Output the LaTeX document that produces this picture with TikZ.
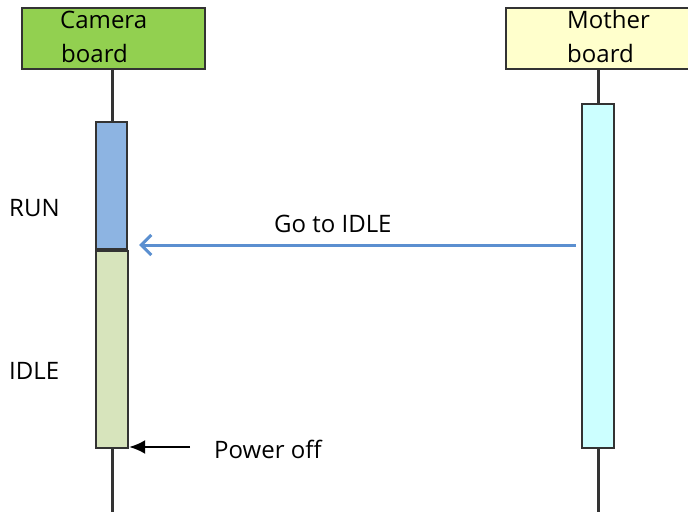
\documentclass[tikz,border=0pt]{standalone}
\usepackage{fontspec}
\setmainfont{Open Sans}
\usetikzlibrary{arrows.meta}
\definecolor{linegray}{HTML}{333333}
\definecolor{camgreen}{HTML}{92D050}
\definecolor{mothyellow}{HTML}{FFFFCC}
\definecolor{runblue}{HTML}{8DB4E2}
\definecolor{idlegreen}{HTML}{D7E4BC}
\definecolor{actcyan}{HTML}{CCFFFF}
\definecolor{msgblue}{HTML}{5B8FD0}
\begin{document}
\begin{tikzpicture}[x=1pt,y=-1pt,
  header/.style={draw=linegray, line width=2.6pt, rectangle, inner sep=0pt, minimum width=183pt, minimum height=61pt},
  actbox/.style={draw=linegray, line width=2.4pt, rectangle, inner sep=0pt},
  lifeline/.style={draw=linegray, line width=3pt},
  lbl/.style={font=\fontsize{24}{24}\selectfont, text=black, inner sep=0pt, anchor=base west},
  msg/.style={draw=msgblue, line width=3pt, -{Straight Barb[length=10pt,width=20pt,line width=3pt]}},
  poffarrow/.style={draw=black, line width=2.2pt, -{Latex[length=16pt,width=14pt]}}
]
\useasboundingbox (0,0) rectangle (688,512);
% headers
\node[header, fill=camgreen] (cam) at (113.5,38.5) {};
\node[header, fill=mothyellow, minimum width=184pt] (moth) at (598,38.5) {};
\node[lbl] (camt1) at (60,28) {Camera};
\node[lbl] (camt2) at (61,62) {board};
\node[lbl] (motht1) at (567,28) {Mother};
\node[lbl] (motht2) at (567,62) {board};
% activation boxes
\node[actbox, fill=runblue, minimum width=31pt, minimum height=127pt] (run) at (111.5,185.5) {};
\node[actbox, fill=idlegreen, minimum width=32pt, minimum height=197pt] (idle) at (112,349.5) {};
\node[actbox, fill=actcyan, minimum width=32pt, minimum height=344pt] (mact) at (598,276) {};
% lifelines
\coordinate (camend) at (112,512);
\coordinate (mothend) at (598,512);
\draw[lifeline] (cam.south -| 112,0) -- (run.north -| 112,0);
\draw[lifeline] (idle.south -| 112,0) -- (camend);
\draw[lifeline] (moth.south) -- (mact.north);
\draw[lifeline] (mact.south) -- (mothend);
% state labels
\node[lbl] (runl) at (9,216) {RUN};
\node[lbl] (idlel) at (9,379) {IDLE};
% messages
\coordinate (msgy) at (0,245);
\draw[msg, shorten <=5pt, shorten >=11pt] (mact.west |- msgy) -- (run.east |- msgy);
\node[lbl] (msgl) at (274,232) {Go to IDLE};
\coordinate (poff) at (190,447);
\draw[poffarrow] (poff) -- (idle.east |- poff);
\node[lbl] (poffl) at (214,458) {Power off};
\end{tikzpicture}
\end{document}
